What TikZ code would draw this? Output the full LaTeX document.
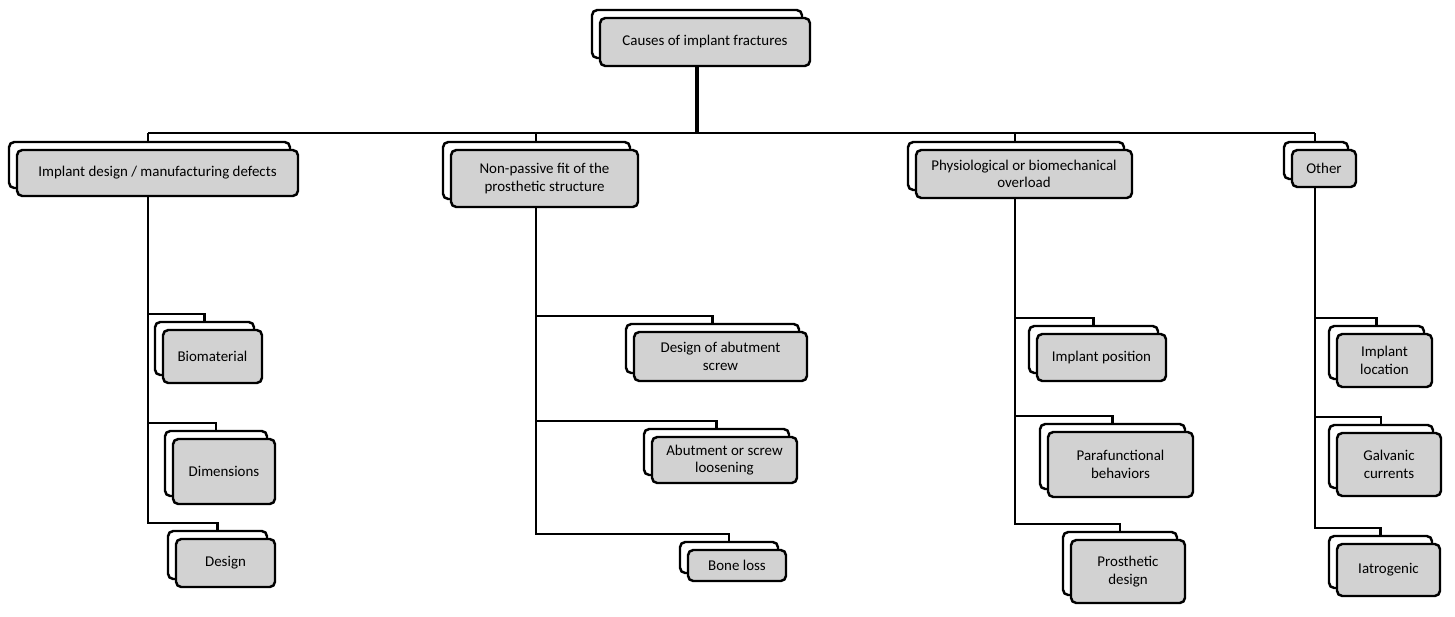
\documentclass[tikz,border=0pt]{standalone}
\usepackage{fontspec}
\setmainfont{Carlito}
\tikzset{
  bx/.style={draw=black, line width=1.4pt, rounded corners=3pt, inner sep=0pt, align=center,
    font=\fontsize{8.5}{10}\selectfont},
  back/.style={bx, fill=white},
  front/.style={bx, fill=gray!35},
  link/.style={line width=1.2pt}
}
% #1 name, #2 left, #3 top, #4 right, #5 bottom (pixels), #6 text
\newcommand\ibox[6]{%
  \node[back, minimum width={(#4-#2)*0.02 cm}, minimum height={(#5-#3)*0.02 cm}]
    (b#1) at ({(#2+#4)/2-8},{(#3+#5)/2-8}) {};
  \node[front, minimum width={(#4-#2)*0.02 cm}, minimum height={(#5-#3)*0.02 cm}]
    (#1) at ({(#2+#4)/2},{(#3+#5)/2}) {#6};
}
\begin{document}
\begin{tikzpicture}[x=0.02cm,y=-0.02cm]
\useasboundingbox (0,0) rectangle (1455,616);
% top level
\ibox{root}{600}{18}{810}{66}{Causes of implant fractures}
\ibox{des}{17}{150}{298}{196}{Implant design / manufacturing defects}
\ibox{fit}{451}{150}{638}{207}{Non-passive fit of the\\prosthetic structure}
\ibox{phy}{916}{150}{1132}{198}{Physiological or biomechanical\\overload}
\ibox{oth}{1292}{150}{1356}{187}{Other}
% children
\ibox{bio}{163}{330}{262}{383}{Biomaterial}
\ibox{dim}{173}{439}{275}{504}{Dimensions}
\ibox{dsg}{176}{539}{275}{587}{Design}
\ibox{abs}{634}{332}{807}{381}{Design of abutment\\screw}
\ibox{loo}{652}{437}{797}{483}{Abutment or screw\\loosening}
\ibox{bon}{688}{550}{786}{581}{Bone loss}
\ibox{pos}{1037}{334}{1166}{381}{Implant position}
\ibox{par}{1048}{432}{1193}{497}{Parafunctional\\behaviors}
\ibox{pro}{1071}{540}{1185}{603}{Prosthetic\\design}
\ibox{loc}{1337}{334}{1432}{387}{Implant\\location}
\ibox{gal}{1337}{433}{1441}{496}{Galvanic\\currents}
\ibox{iat}{1337}{544}{1440}{596}{Iatrogenic}
% connectors
\coordinate (bus) at (697,133);
\draw[line width=2pt] (root.south -| bus) -- (bus);
\draw[link] (148,133) -- (1315,133);
\foreach \p/\x in {des/148, fit/536, phy/1015, oth/1315}
  \draw[link] (\x,133) -- (b\p.north -| \x,0);
\foreach \p/\x/\c in {des/148/bio, des/148/dim, des/148/dsg,
                      fit/536/abs, fit/536/loo, fit/536/bon,
                      phy/1015/pos, phy/1015/par, phy/1015/pro,
                      oth/1315/loc, oth/1315/gal, oth/1315/iat}
  \draw[link] (\p.south -| \x,0) |- ([yshift=0.14cm]b\c.north) -- (b\c.north);
\end{tikzpicture}
\end{document}
